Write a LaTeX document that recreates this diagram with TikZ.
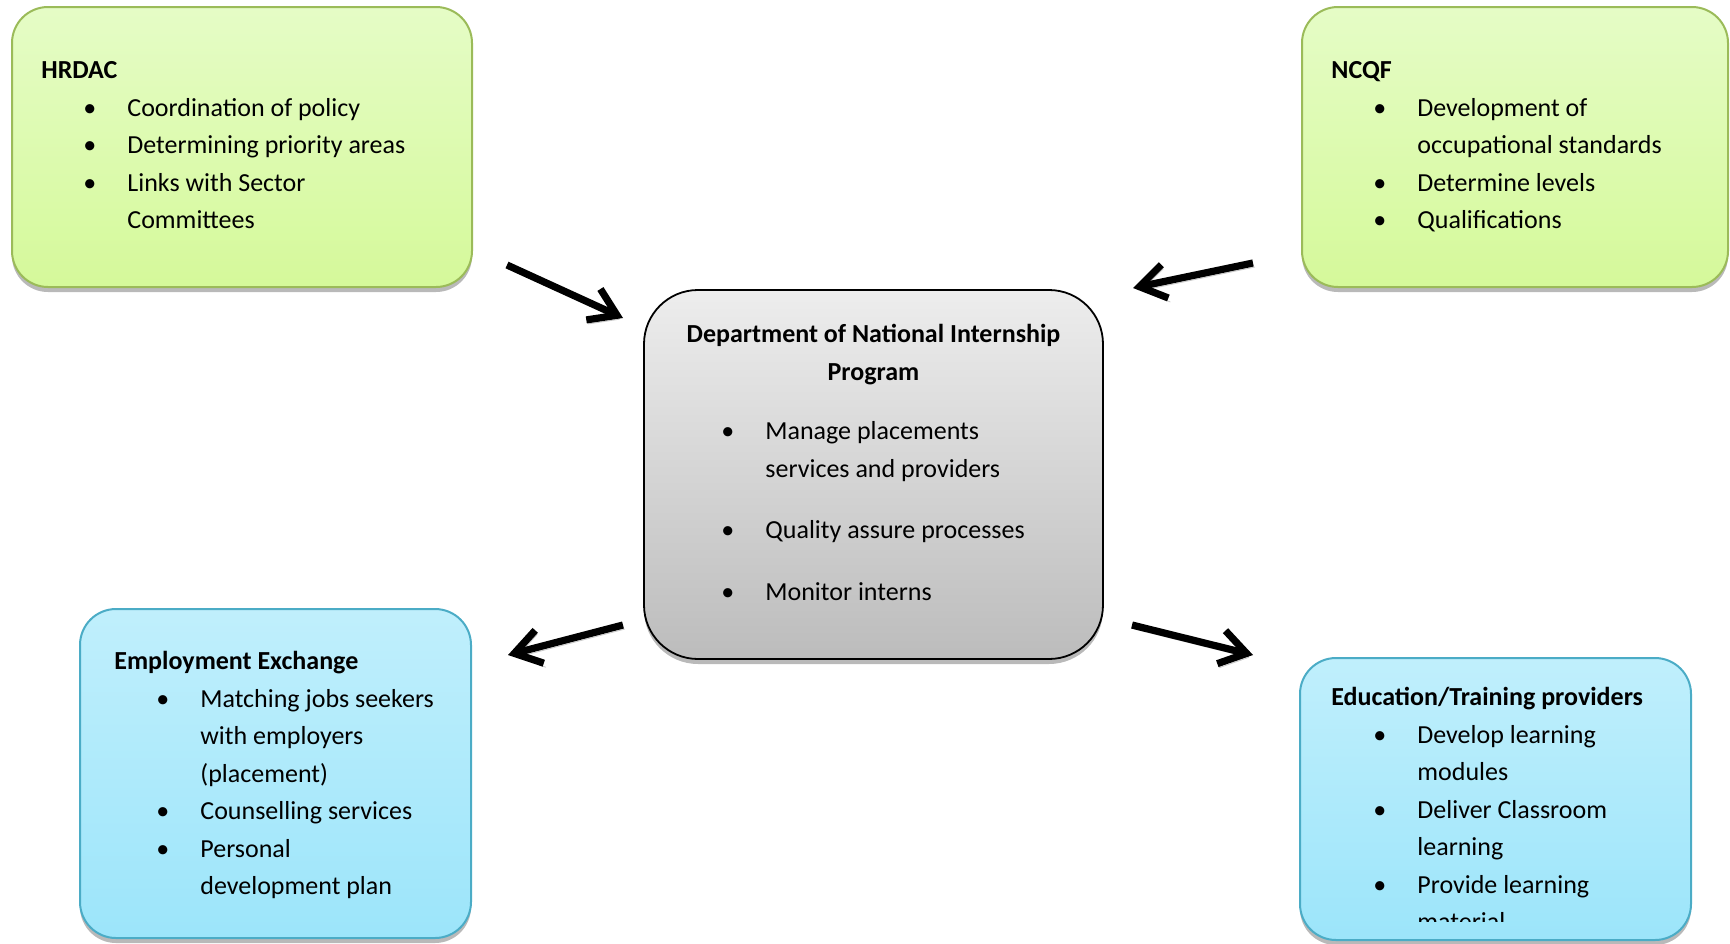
\documentclass[tikz,border=0pt]{standalone}
\usepackage{fontspec}
\setmainfont{Carlito}
\usetikzlibrary{arrows.meta,shadows}

\definecolor{greentop}{HTML}{E5FCC6}
\definecolor{greenbot}{HTML}{D5F99A}
\definecolor{greenline}{HTML}{9BBB59}
\definecolor{bluetop}{HTML}{C0EFFC}
\definecolor{bluebot}{HTML}{9CE5FA}
\definecolor{blueline}{HTML}{4BACC6}
\definecolor{greytop}{HTML}{EDEDED}
\definecolor{greybot}{HTML}{BCBCBC}

% bullet line and continuation line
\newcommand{\bul}{\hspace*{21pt}\makebox[22pt][l]{\textbullet}}
\newcommand{\cont}{\hspace*{43pt}}

\tikzset{
  card/.style={draw, line width=1pt, rounded corners=18pt, inner sep=0pt,
    drop shadow={shadow xshift=0pt, shadow yshift=-2.5pt, fill=black!55, opacity=0.5}},
  greencard/.style={card, draw=greenline, top color=greentop, bottom color=greenbot},
  bluecard/.style={card, draw=blueline, top color=bluetop, bottom color=bluebot},
  hub/.style={card, draw=black, line width=0.9pt, rounded corners=27pt, top color=greytop, bottom color=greybot},
  txt/.style={inner sep=0pt, anchor=north west, align=left,
    font=\fontsize{13pt}{18.75pt}\selectfont},
  hd/.style={txt, anchor=north, align=center,
    font=\fontsize{13pt}{18.75pt}\selectfont\bfseries},
  flow/.style={line width=3.6pt, -{Straight Barb[length=13pt,width=17pt]},
    preaction={draw=black!22, transform canvas={xshift=1pt,yshift=-2pt}}}
}

\begin{document}
\begin{tikzpicture}[x=0.5pt,y=-0.5pt]
\useasboundingbox (0,0) rectangle (1730,943);

% boxes
\node[greencard, minimum width=230pt, minimum height=140pt] (hrdac) at (242,147) {};
\node[greencard, minimum width=213pt, minimum height=140pt] (ncqf) at (1515,147) {};
\node[bluecard, minimum width=195.5pt, minimum height=164.5pt] (empl) at (275.5,773.5) {};
\node[bluecard, minimum width=195.5pt, minimum height=141pt] (edu) at (1495.5,799) {};
\node[hub, minimum width=229.5pt, minimum height=184.5pt] (dept) at (873.5,474.5) {};

% texts
\node[txt] (hrdacTxt) at (41,52) {\strut\textbf{HRDAC}\\
  \bul Coordination of policy\\
  \bul Determining priority areas\\
  \bul Links with Sector\\
  \cont Committees};
\node[txt] (ncqfTxt) at (1331,52) {\strut\textbf{NCQF}\\
  \bul Development of\\
  \cont occupational standards\\
  \bul Determine levels\\
  \bul Qualifications};
\node[txt] (emplTxt) at (114,643) {\strut\textbf{Employment Exchange}\\
  \bul Matching jobs seekers\\
  \cont with employers\\
  \cont (placement)\\
  \bul Counselling services\\
  \bul Personal\\
  \cont development plan};
\begin{scope}
  \clip (1290,650) rectangle (1700,921);
  \node[txt] (eduTxt) at (1331,679) {\strut\textbf{Education/Training providers}\\
    \bul Develop learning\\
    \cont modules\\
    \bul Deliver Classroom\\
    \cont learning\\
    \bul Provide learning\\
    \cont material};
\end{scope}
\node[hd] (deptTitle) at (873.5,316) {\strut Department of National Internship\\Program};
\node[txt] (deptTxt) at (679,413) {\strut\bul Manage placements\\
  \cont services and providers\\[12pt]
  \bul Quality assure processes\\[12pt]
  \bul Monitor interns};

% arrows
\coordinate (a1s) at (507,265);
\coordinate (a1e) at (623,318);
\coordinate (a2s) at (1253,263);
\coordinate (a2e) at (1133,288);
\coordinate (a3s) at (623,625);
\coordinate (a3e) at (508,655);
\coordinate (a4s) at (1132,625);
\coordinate (a4e) at (1253,655);
\draw[flow] (a1s) -- (a1e);
\draw[flow] (a2s) -- (a2e);
\draw[flow] (a3s) -- (a3e);
\draw[flow] (a4s) -- (a4e);
\end{tikzpicture}
\end{document}
